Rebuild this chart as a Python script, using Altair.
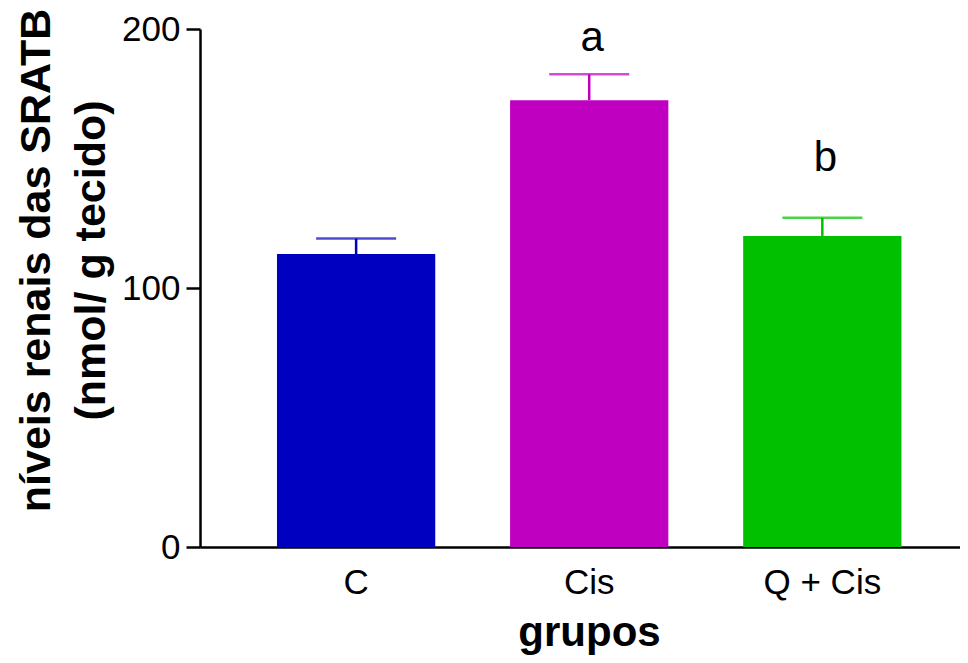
import altair as alt
import pandas as pd

grupos = ["C", "Cis", "Q + Cis"]
medias = [113.1, 172.5, 120.1]
erro_sup = [119.1, 182.5, 127.1]
cores = ["#0000C0", "#C000C0", "#00C000"]
letras = ["", "a", "b"]
letra_y = [0, 191.5, 145.2]

df = pd.DataFrame({
    "grupo": grupos,
    "media": medias,
    "erro": erro_sup,
    "letra": letras,
    "letra_y": letra_y,
})

FONT = "Liberation Sans"

x_scale = alt.Scale(domain=grupos, paddingInner=0.321, paddingOuter=0.2907, align=0.568)
y_scale = alt.Scale(domain=[0, 200], nice=False, zero=True)
color_scale = alt.Scale(domain=grupos, range=cores)

x_axis = alt.Axis(
    title="grupos", labelAngle=0, ticks=False, labelFont=FONT, labelFontSize=35,
    labelColor="black", labelPadding=18, titleFont=FONT, titleFontSize=42,
    titleFontWeight="bold", titleColor="black", titleBaseline="alphabetic",
    titleY=98, titleX=389, domainColor="black", domainWidth=2.5,
)
y_axis = alt.Axis(
    title=["níveis renais das SRATB", "(nmol/ g tecido)"], values=[0, 100, 200],
    grid=False, labelFont=FONT, labelFontSize=35, labelColor="black",
    labelPadding=6, labelFlush=False, tickSize=14, tickWidth=2.5, tickColor="black",
    domainColor="black", domainWidth=2.5, titleFont=FONT, titleFontSize=43,
    titleFontWeight="bold", titleColor="black", titleAngle=-90, titleAlign="center",
    titleBaseline="top", titleX=-185, titleY=231, titleLineHeight=55,
)

base = alt.Chart(df)

bars = base.mark_bar().encode(
    x=alt.X("grupo:N", scale=x_scale, axis=x_axis, sort=grupos),
    y=alt.Y("media:Q", scale=y_scale, axis=y_axis),
    color=alt.Color("grupo:N", scale=color_scale, legend=None),
)

rules = base.mark_rule(strokeWidth=2.5).encode(
    x=alt.X("grupo:N", scale=x_scale, sort=grupos),
    y=alt.Y("media:Q", scale=y_scale),
    y2="erro:Q",
    color=alt.Color("grupo:N", scale=color_scale, legend=None),
)

caps = base.mark_tick(size=80, thickness=2.5, orient="horizontal").encode(
    x=alt.X("grupo:N", scale=x_scale, sort=grupos),
    y=alt.Y("erro:Q", scale=y_scale),
    color=alt.Color("grupo:N", scale=color_scale, legend=None),
)

labels = base.mark_text(font=FONT, fontSize=42, color="black", baseline="alphabetic", align="center", dx=3).encode(
    x=alt.X("grupo:N", scale=x_scale, sort=grupos),
    y=alt.Y("letra_y:Q", scale=y_scale),
    text="letra:N",
)

chart = alt.layer(bars, rules, caps, labels).properties(
    width=760, height=518,
    padding={"left": 192, "top": 21, "right": 0, "bottom": 108},
    autosize=alt.AutoSizeParams(type="none"),
).configure(background="white").configure_view(stroke=None)

chart.save("out.html", embed_options={"renderer": "svg", "actions": False})
